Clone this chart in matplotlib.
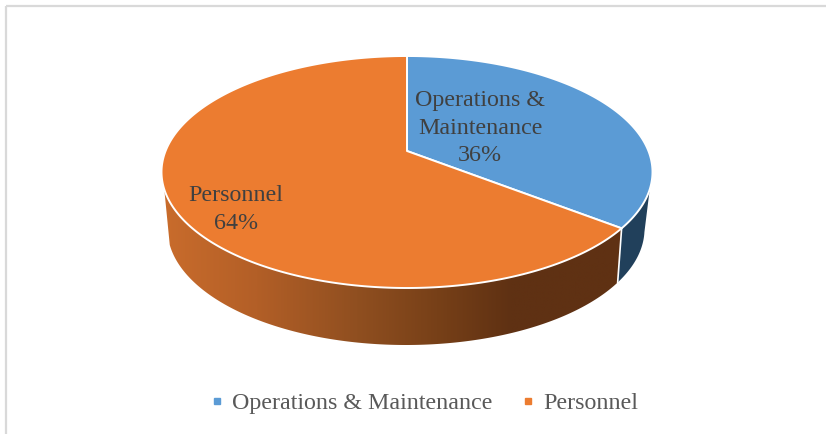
import numpy as np
import matplotlib.pyplot as plt
from matplotlib.lines import Line2D
from matplotlib.patches import Polygon, Rectangle
from matplotlib.colors import LinearSegmentedColormap

categories = ["Operations & Maintenance", "Personnel"]
shares = [36, 64]
slice_labels = ["Operations &\nMaintenance\n36%", "Personnel\n64%"]
slice_colors = ["#5B9BD5", "#EC7C30"]

plt.rcParams['font.family'] = ['Liberation Serif', 'DejaVu Sans']


def rim(theta, top, bottom, rx, k, cx=407):
    # circle seen in perspective, theta is clockwise from 12 o'clock
    u = np.sin(theta)
    v = -np.cos(theta)
    apex = (bottom * (1 - k) + top * (1 + k)) / 2
    b = (bottom - apex) * (1 - k)
    w = 1 - k * v
    return cx + rx * np.sqrt(1 - k ** 2) * u / w, apex + b * v / w


def top_rim(theta):
    return rim(theta, 56, 288, 245.5, 0.22)


def low_rim(theta):
    return rim(theta, 113, 345, 238.5, 0.25, cx=406)


fig = plt.figure(figsize=(8.26, 4.34), dpi=100)
ax = fig.add_axes([0, 0, 1, 1])
ax.set_xlim(0, 826)
ax.set_ylim(434, 0)
ax.axis("off")

# chart frame, only left and top show up in the screenshot
ax.add_patch(Rectangle((6, 6), 900, 500, fill=False, ec="#D9D9D9", lw=1.6))

split = 2 * np.pi * shares[0] / sum(shares)
apex = (407, 151)

# side walls
t1 = np.linspace(split, np.radians(111), 60)
t2 = np.linspace(np.radians(106), split, 60)
xa, ya = top_rim(t1)
xb, yb = low_rim(t2)
blue_wall = Polygon(np.c_[np.r_[xa, xb], np.r_[ya, yb]], fc="#21405B", ec="none", zorder=2)
ax.add_patch(blue_wall)

t1 = np.linspace(split, np.radians(249), 200)
t2 = np.linspace(np.radians(248), split, 200)
xa, ya = top_rim(t1)
xb, yb = low_rim(t2)
orange_wall = Polygon(np.c_[np.r_[xa, xb], np.r_[ya, yb]], fc="none", ec="none", zorder=2)
ax.add_patch(orange_wall)

stops = [(0, "#C96C2C"), (0.2, "#B35F27"), (0.42, "#904F20"), (0.62, "#743E17"), (0.76, "#5F3113"), (1, "#5F3113")]
shade = LinearSegmentedColormap.from_list("wall", stops)
im = ax.imshow(np.linspace(0, 1, 400).reshape(1, -1), cmap=shade, extent=(163, 622, 346, 180),
               aspect="auto", zorder=2)
im.set_clip_path(orange_wall)
ax.set_xlim(0, 826)
ax.set_ylim(434, 0)

# wall seam
x0, y0 = top_rim(split)
x1, y1 = low_rim(split)
ax.plot([x0, x1], [y0, y1], color="white", lw=1.2, zorder=3)

# top faces
start = 0
for share, color in zip(shares, slice_colors):
    stop = start + 2 * np.pi * share / sum(shares)
    t = np.linspace(start, stop, 300)
    x, y = top_rim(t)
    ax.add_patch(Polygon(np.c_[np.r_[apex[0], x], np.r_[apex[1], y]], fc=color, ec="white",
                         lw=1.4, joinstyle="round", zorder=4))
    start = stop

ax.text(480, 128, slice_labels[0], ha="center", va="center", fontsize=17.3, color="#404040",
        linespacing=1.38, zorder=5)
ax.text(236, 209.5, slice_labels[1], ha="center", va="center", fontsize=17.3, color="#404040",
        linespacing=1.38, zorder=5)

handles = [Line2D([], [], ls="none", marker="s", ms=5, color=c) for c in slice_colors]
ax.legend(handles, categories, loc="center", bbox_to_anchor=(424.5 / 826, 1 - 403.5 / 434), ncol=2,
          frameon=False, fontsize=17.3, labelcolor="#595959", handlelength=0.5, handletextpad=0.38,
          columnspacing=1.22, borderpad=0)

fig.savefig("out.png", dpi=100)
